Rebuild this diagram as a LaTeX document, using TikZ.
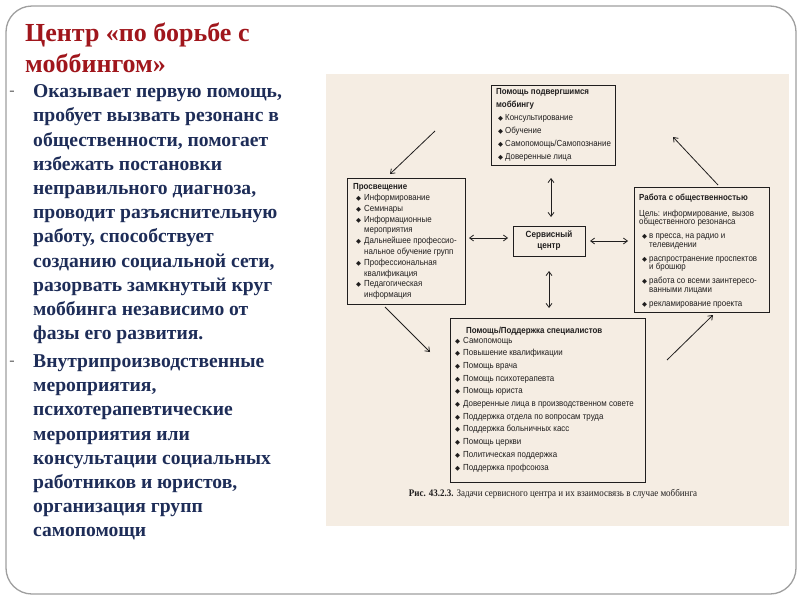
\documentclass[tikz,border=0pt]{standalone}
\usepackage{fontspec}
\setmainfont{Liberation Serif}
\newfontfamily\dsans[FakeStretch=0.9]{Liberation Sans}
\newfontfamily\dsym{DejaVu Sans}
\newfontfamily\capserif[FakeStretch=0.9]{Liberation Serif}
\usetikzlibrary{arrows.meta}
\definecolor{titlered}{RGB}{160,22,28}
\definecolor{bodyblue}{RGB}{30,45,88}
\definecolor{beige}{RGB}{245,237,227}
\definecolor{ink}{RGB}{32,30,30}
\newcommand\Bu[2]{\makebox[#2pt][l]{\hspace*{#1pt}{\dsym\fontsize{6.5}{5}\selectfont ◆}}}
\newcommand\Cn[1]{\hspace*{#1pt}}
\tikzset{
  frame/.style={draw=gray!75, line width=1.3pt, rounded corners=26pt, fill=white},
  titletext/.style={font=\bfseries\fontsize{26}{31}\selectfont, text=titlered, align=left, anchor=north west, inner sep=0pt},
  bodytext/.style={font=\bfseries\fontsize{19.6}{24.2}\selectfont, text=bodyblue, align=left, anchor=north west, inner sep=0pt},
  dashmark/.style={font=\fontsize{16}{16}\selectfont, text=gray!80!black, inner sep=0pt},
  dbox/.style={draw=ink, line width=0.9pt, inner sep=0pt, anchor=north west},
  dtext/.style={font=\dsans\fontsize{8.8}{#1}\selectfont, text=ink, align=left, anchor=north west, inner sep=0pt},
  darrow/.style={draw=ink, line width=0.8pt, -{Straight Barb[length=4pt,width=6pt]}},
  ddarrow/.style={draw=ink, line width=0.8pt, {Straight Barb[length=4pt,width=6pt]}-{Straight Barb[length=4pt,width=6pt]}},
}
\begin{document}
\begin{tikzpicture}[x=1pt,y=-1pt]
\useasboundingbox (0,0) rectangle (800,600);
\fill[white] (0,0) rectangle (800,600);
\path[frame] (6,6) rectangle (796,594);

% title and body
\node[titletext] (title) at (25,23) {Центр «по борьбе с\\моббингом»};
\node[bodytext] (para1) at (33,84.5) {Оказывает первую помощь,\\пробует вызвать резонанс в\\общественности, помогает\\избежать постановки\\неправильного диагноза,\\проводит разъяснительную\\работу, способствует\\созданию социальной сети,\\разорвать замкнутый круг\\моббинга независимо от\\фазы его развития.};
\node[bodytext] (para2) at (33,354.5) {Внутрипроизводственные\\мероприятия,\\психотерапевтические\\мероприятия или\\консультации социальных\\работников и юристов,\\организация групп\\самопомощи};
\node[dashmark] (dash1) at (12,93) {-};
\node[dashmark] (dash2) at (12,363) {-};

% scanned figure background
\fill[beige] (326,74) rectangle (789,526);

% boxes
\node[dbox, minimum width=124pt, minimum height=80pt] (topbox) at (491,85) {};
\node[dtext=13] (toptxt) at (496,88.5) {\textbf{Помощь подвергшимся}\\\textbf{моббингу}\\\Bu{2}{9}Консультирование\\\Bu{2}{9}Обучение\\\Bu{2}{9}Самопомощь/Самопознание\\\Bu{2}{9}Доверенные лица};

\node[dbox, minimum width=118pt, minimum height=126pt] (leftbox) at (347,178) {};
\node[dtext=10.8] (lefttxt) at (353,183.5) {\textbf{Просвещение}\\\Bu{3}{11}Информирование\\\Bu{3}{11}Семинары\\\Bu{3}{11}Информационные\\\Cn{11}мероприятия\\\Bu{3}{11}Дальнейшее профессио-\\\Cn{11}нальное обучение групп\\\Bu{3}{11}Профессиональная\\\Cn{11}квалификация\\\Bu{3}{11}Педагогическая\\\Cn{11}информация};

\node[dbox, minimum width=72pt, minimum height=30pt, anchor=center, align=center, font=\dsans\bfseries\fontsize{9}{11}\selectfont, text=ink] (center) at (549,241) {Сервисный\\центр};

\node[dbox, minimum width=135pt, minimum height=125pt] (rightbox) at (634,187) {};
\node[dtext=8.5] (righttxt) at (639,193.5) {\textbf{Работа с общественностью}\\[7.5pt]Цель: информирование, вызов\\общественного резонанса\\[5.5pt]\Bu{3}{10}в пресса, на радио и\\\Cn{10}телевидении\\[5.5pt]\Bu{3}{10}распространение проспектов\\\Cn{10}и брошюр\\[5.5pt]\Bu{3}{10}работа со всеми заинтересо-\\\Cn{10}ванными лицами\\[5.5pt]\Bu{3}{10}рекламирование проекта};

\node[dbox, minimum width=195pt, minimum height=164pt] (bottombox) at (450,318) {};
\node[dtext=12.7] (bottomtxt) at (455,326.5) {\Cn{11}\textbf{Помощь/Поддержка специалистов}\\[-2.7pt]\Bu{0}{8}Самопомощь\\\Bu{0}{8}Повышение квалификации\\\Bu{0}{8}Помощь врача\\\Bu{0}{8}Помощь психотерапевта\\\Bu{0}{8}Помощь юриста\\\Bu{0}{8}Доверенные лица в производственном совете\\\Bu{0}{8}Поддержка отдела по вопросам труда\\\Bu{0}{8}Поддержка больничных касс\\\Bu{0}{8}Помощь церкви\\\Bu{0}{8}Политическая поддержка\\\Bu{0}{8}Поддержка профсоюза};

\node[font=\capserif\fontsize{10}{11}\selectfont, text=ink, inner sep=0pt] (caption) at (553,494) {\textbf{Рис. 43.2.3.} Задачи сервисного центра и их взаимосвязь в случае моббинга};

% arrow end points
\coordinate (a1s) at (435,131); \coordinate (a1e) at (390,174);
\coordinate (a2s) at (718,185); \coordinate (a2e) at (673,137);
\coordinate (a3s) at (551,178); \coordinate (a3e) at (551,217);
\coordinate (a4s) at (469,238); \coordinate (a4e) at (508,238);
\coordinate (a5s) at (590,241); \coordinate (a5e) at (628,241);
\coordinate (a6s) at (549,271); \coordinate (a6e) at (549,308);
\coordinate (a7s) at (385,307); \coordinate (a7e) at (430,352);
\coordinate (a8s) at (667,360); \coordinate (a8e) at (713,315);

\draw[darrow] (a1s) -- (a1e);
\draw[darrow] (a2s) -- (a2e);
\draw[ddarrow] (a3s) -- (a3e);
\draw[ddarrow] (a4s) -- (a4e);
\draw[ddarrow] (a5s) -- (a5e);
\draw[ddarrow] (a6s) -- (a6e);
\draw[darrow] (a7s) -- (a7e);
\draw[darrow] (a8s) -- (a8e);
\end{tikzpicture}
\end{document}
